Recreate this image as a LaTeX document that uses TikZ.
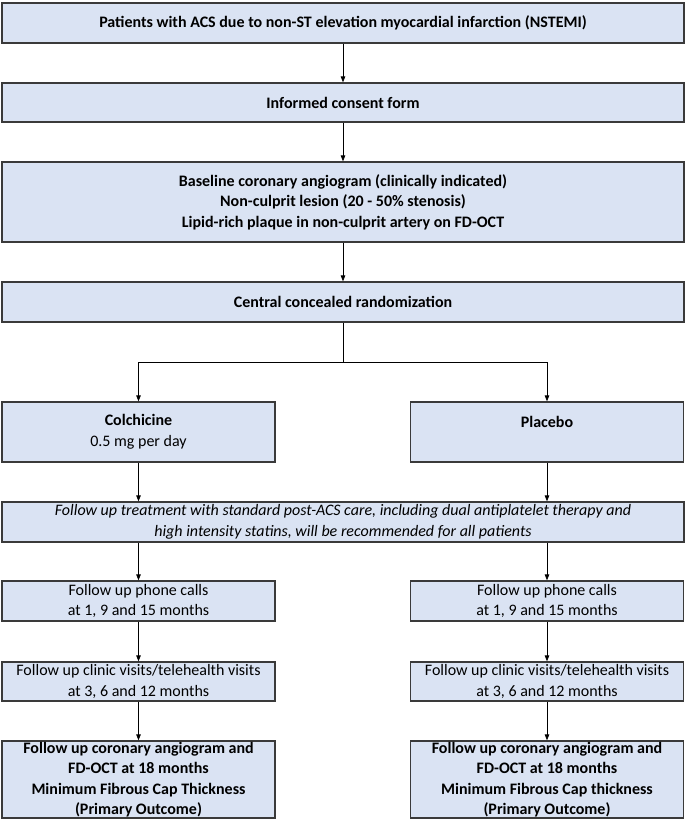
\documentclass[tikz,border=0pt]{standalone}
\usepackage{fontspec}
\setmainfont{Carlito}
\usetikzlibrary{arrows.meta}
\definecolor{boxfill}{HTML}{DAE3F3}
\definecolor{boxline}{HTML}{3A3A3A}
\newcommand{\fsz}{\fontsize{16}{20.5}\selectfont}
\tikzset{
  box/.style={draw=boxline, line width=1.2pt, fill=boxfill, rectangle, inner sep=0pt, align=center,
    font=\fsz},
  boldbox/.style={box, font=\fsz\bfseries},
  wide/.style={minimum width=682pt},
  half/.style={minimum width=273pt},
  arr/.style={line width=0.8pt, -{Triangle[length=6pt,width=4.5pt]}}
}
\begin{document}
\begin{tikzpicture}[x=1pt,y=1pt]
\useasboundingbox (0,0) rectangle (685,-821);
\node[boldbox, wide, minimum height=40pt] (pat) at (343,-23) {Patients with ACS due to non-ST elevation myocardial infarction (NSTEMI)};
\node[boldbox, wide, minimum height=39pt] (icf) at (343,-102.5) {Informed consent form};
\node[boldbox, wide, minimum height=80pt] (base) at (343,-202) {Baseline coronary angiogram (clinically indicated)\\Non-culprit lesion (20 - 50\% stenosis)\\Lipid-rich plaque in non-culprit artery on FD-OCT};
\node[boldbox, wide, minimum height=40pt] (rand) at (343,-302) {Central concealed randomization};
\coordinate (split) at (343,-362);
\node[box, half, minimum height=60pt] (colch) at (138.5,-432) {\textbf{Colchicine}\\0.5 mg per day};
\node[boldbox, half, minimum height=60pt] (plac) at (547,-432) {Placebo\\\phantom{0}};
\node[box, wide, minimum height=40pt, font=\fsz\itshape] (fu) at (343,-522) {Follow up treatment with standard post-ACS care, including dual antiplatelet therapy and\\high intensity statins, will be recommended for all patients};
\node[box, half, minimum height=40pt] (phL) at (138.5,-601) {Follow up phone calls\\at 1, 9 and 15 months};
\node[box, half, minimum height=40pt] (phR) at (547,-601) {Follow up phone calls\\at 1, 9 and 15 months};
\node[box, half, minimum height=39pt] (clL) at (138.5,-681.5) {Follow up clinic visits/telehealth visits\\at 3, 6 and 12 months};
\node[box, half, minimum height=39pt] (clR) at (547,-681.5) {Follow up clinic visits/telehealth visits\\at 3, 6 and 12 months};
\node[boldbox, half, minimum height=77pt] (fiL) at (138.5,-779.5) {Follow up coronary angiogram and\\FD-OCT at 18 months\\Minimum Fibrous Cap Thickness\\(Primary Outcome)};
\node[boldbox, half, minimum height=77pt] (fiR) at (547,-779.5) {Follow up coronary angiogram and\\FD-OCT at 18 months\\Minimum Fibrous Cap thickness\\(Primary Outcome)};
\draw[arr] (pat) -- (icf);
\draw[arr] (icf) -- (base);
\draw[arr] (base) -- (rand);
\draw[line width=0.8pt] (rand.south) -- (split);
\draw[arr] (split) -| (colch.north);
\draw[arr] (split) -| (plac.north);
\draw[arr] (colch.south) -- (colch.south |- fu.north);
\draw[arr] (plac.south) -- (plac.south |- fu.north);
\draw[arr] (phL.north |- fu.south) -- (phL.north);
\draw[arr] (phR.north |- fu.south) -- (phR.north);
\draw[arr] (phL) -- (clL);
\draw[arr] (phR) -- (clR);
\draw[arr] (clL) -- (fiL);
\draw[arr] (clR) -- (fiR);
\end{tikzpicture}
\end{document}
